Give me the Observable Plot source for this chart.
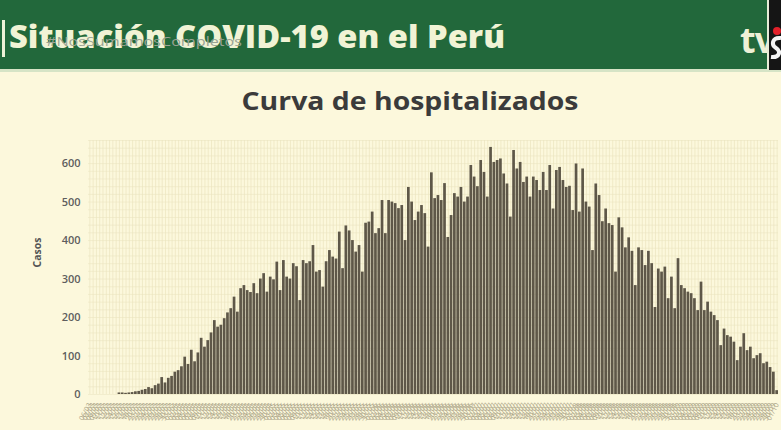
<!DOCTYPE html>
<html>
<head>
<meta charset="utf-8">
<script src="https://cdn.jsdelivr.net/npm/d3@7"></script>
<script src="https://cdn.jsdelivr.net/npm/@observablehq/plot@0.6"></script>
<style>
html, body { margin: 0; padding: 0; }
body { width: 781px; height: 430px; overflow: hidden; background: #fcf8dc; position: relative; font-family: "Open Sans", sans-serif; }
#deco { position: absolute; left: 0; top: 0; }
#chart { position: absolute; left: 0; top: 130px; }
</style>
</head>
<body>
<svg id="deco" width="781" height="130">
  <rect x="0" y="0" width="781" height="70" fill="#22683b"></rect>
  <rect x="0" y="69" width="781" height="3" fill="#d6e4c6"></rect>
  <rect x="2" y="20" width="3" height="37" fill="#eef2d8"></rect>
  <text x="9" y="48" font-family="Open Sans" font-weight="800" font-size="31" fill="#f1f3d5" textLength="496" lengthAdjust="spacingAndGlyphs">Situación COVID-19 en el Perú</text>
  <text x="46" y="46" font-family="Open Sans" font-size="12.5" fill="#9aa394" textLength="196" lengthAdjust="spacingAndGlyphs">#NosSumamosCompletos</text>
  <text x="740" y="53" font-family="Open Sans" font-weight="700" font-size="36" fill="#eef0d6" letter-spacing="-1">tv</text>
  <rect x="767" y="0" width="2" height="70" fill="#e8ecd8"></rect>
  <rect x="769" y="0" width="12" height="70" fill="#151515"></rect>
  <circle cx="777" cy="31" r="4" fill="#e3202a"></circle>
  <path d="M781,38 C772,37 771,45 776,48 C781,51 780,58 771,57" fill="none" stroke="#f4f4f4" stroke-width="4"></path>
  <text x="410" y="110" text-anchor="middle" font-family="Open Sans" font-weight="700" font-size="25" fill="#3b3b3b" textLength="337" lengthAdjust="spacingAndGlyphs">Curva de hospitalizados</text>
</svg>
<div id="chart"></div>
<script>
const startDate = new Date(Date.UTC(2020, 2, 6));
const dates = d3.utcDay.range(startDate, d3.utcDay.offset(startDate, 210)).map(d3.utcFormat("%d/%m"));
const values = [
  0,0,0,0,0,0,0,0,0,
  4,4,3,4,5,7,8,11,13,18,
  15,23,27,44,30,42,47,58,62,72,
  97,78,115,85,108,146,123,140,160,192,
  175,180,197,212,223,253,214,275,283,270,
  265,288,262,300,314,266,305,298,344,270,
  348,305,300,340,332,244,348,340,345,387,
  318,322,279,345,374,357,352,
  422,327,438,425,400,370,387,318,445,448,
  474,418,431,504,418,504,500,496,483,491,
  400,538,500,452,474,491,470,383,576,509,
  517,504,548,408,465,522,513,
  538,500,513,595,565,540,608,577,513,642,
  603,608,612,573,547,461,634,586,603,551,
  565,513,565,556,530,577,530,595,482,582,
  590,556,538,541,478,599,474,586,500,487,
  374,547,
  517,449,482,444,439,318,459,433,381,407,
  372,283,381,374,335,372,340,226,326,318,
  331,249,305,
  223,353,283,275,266,262,
  249,218,292,218,240,214,205,192,127,170,
  153,149,136,88,123,158,114,123,93,101,
  106,80,84,70,58,10
];
const yTicks = [0, 100, 200, 300, 400, 500, 600];
const yGrid = d3.range(0, 661, 20);
const yLabel = "Casos";

const table = dates.map((d, i) => ({date: d, value: values[i]}));

const chart = Plot.plot({
  width: 781,
  height: 300,
  marginLeft: 88,
  marginRight: 3,
  marginTop: 10,
  marginBottom: 36,
  style: {background: "transparent", fontFamily: "Open Sans"},
  x: {type: "band", domain: dates, paddingInner: 0.18, paddingOuter: 0, label: null},
  y: {domain: [0, 660], label: null},
  marks: [
    Plot.ruleY(yGrid, {stroke: "#eee8c6", strokeWidth: 0.7}),
    Plot.ruleX(dates, {x: d => d, y1: 0, y2: 660, stroke: "#ebe4bf", strokeWidth: 0.7}),
    Plot.barY(table, {x: "date", y: "value", fill: "#5e5748"}),
    Plot.axisY({ticks: yTicks, tickSize: 0, tickPadding: 8, fontSize: 11, fontWeight: 600, fill: "#5e5e5e", style: {letterSpacing: "1.2px"}}),
    Plot.axisX({tickSize: 0, tickPadding: 9, tickRotate: -62, fontSize: 7, fill: "#aaa386"}),
    Plot.text([yLabel], {frameAnchor: "left", dx: -51, rotate: -90, fontSize: 10.5, fontWeight: 700, fill: "#555"})
  ]
});
document.getElementById("chart").appendChild(chart);
</script>
</body>
</html>
